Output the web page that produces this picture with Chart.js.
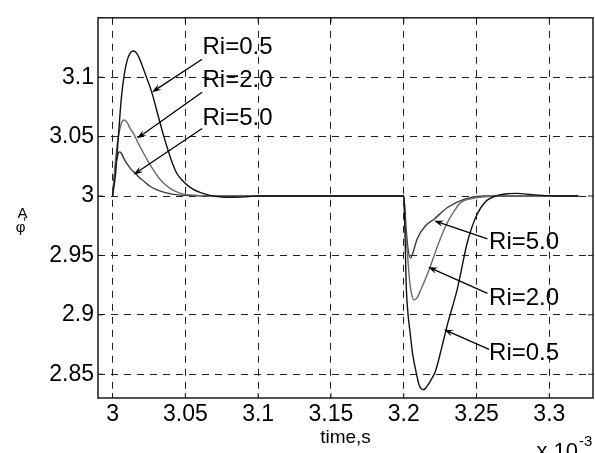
<!DOCTYPE html>
<html>
<head>
<meta charset="utf-8">
<script src="https://cdn.jsdelivr.net/npm/chart.js@4/dist/chart.umd.min.js"></script>
<style>
  html, body { margin: 0; padding: 0; background: #fff; }
  #wrap { width: 595px; height: 453px; }
</style>
</head>
<body>
<div id="wrap"><canvas id="c" width="595" height="453"></canvas></div>
<script>
// ---- data (time in units of 1e-3 s) ----
const ri05Time  = [3.000, 3.002, 3.004, 3.006, 3.008, 3.010, 3.012, 3.014, 3.016, 3.018, 3.020, 3.023, 3.027, 3.031, 3.035, 3.038, 3.041, 3.044, 3.048, 3.053, 3.060, 3.067, 3.075, 3.083, 3.092, 3.100, 3.200,
                   3.2005, 3.2016, 3.203, 3.2043, 3.206, 3.2078, 3.2107, 3.2137, 3.216, 3.2185, 3.2219, 3.226, 3.230, 3.2369, 3.2437, 3.250, 3.256, 3.2644, 3.272, 3.2781, 3.285, 3.295, 3.305, 3.320];
const ri05Value = [3.000, 3.018, 3.050, 3.082, 3.102, 3.114, 3.120, 3.122, 3.121, 3.117, 3.111, 3.101, 3.087, 3.069, 3.051, 3.039, 3.028, 3.0194, 3.013, 3.0075, 3.003, 3.0005, 2.9992, 2.9990, 2.9994, 3.000, 3.000,
                   2.990, 2.928, 2.900, 2.886, 2.868, 2.856, 2.8405, 2.837, 2.840, 2.8447, 2.853, 2.872, 2.8918, 2.9223, 2.9611, 2.9836, 2.995, 3.0005, 3.002, 3.0022, 3.0015, 3.0005, 3.000, 3.000];

const ri2Time  = [3.000, 3.002, 3.004, 3.006, 3.0076, 3.010, 3.012, 3.0144, 3.017, 3.020, 3.024, 3.028, 3.032, 3.035, 3.040, 3.045, 3.050, 3.060, 3.070, 3.200,
                  3.2005, 3.2023, 3.2041, 3.2055, 3.2069, 3.209, 3.212, 3.2173, 3.2242, 3.230, 3.235, 3.2391, 3.2506, 3.265, 3.320];
const ri2Value = [3.000, 3.030, 3.050, 3.061, 3.064, 3.062, 3.057, 3.0527, 3.046, 3.039, 3.030, 3.022, 3.015, 3.011, 3.006, 3.003, 3.0013, 3.0003, 3.000, 3.000,
                  2.985, 2.9556, 2.9279, 2.917, 2.9126, 2.914, 2.922, 2.9376, 2.9611, 2.9778, 2.988, 2.9944, 2.9986, 3.000, 3.000];

const ri5Time  = [3.000, 3.002, 3.0035, 3.0046, 3.006, 3.008, 3.010, 3.013, 3.0156, 3.018, 3.022, 3.026, 3.031, 3.037, 3.045, 3.055, 3.070, 3.200,
                  3.2015, 3.203, 3.2046, 3.206, 3.2092, 3.215, 3.2208, 3.230, 3.2414, 3.255, 3.320];
const ri5Value = [3.000, 3.025, 3.034, 3.037, 3.036, 3.031, 3.027, 3.022, 3.0194, 3.016, 3.012, 3.008, 3.005, 3.0027, 3.001, 3.0003, 3.000, 3.000,
                  2.975, 2.955, 2.9478, 2.951, 2.9639, 2.975, 2.9805, 2.9903, 2.9972, 3.000, 3.000];

const xTickValues = [3.00, 3.05, 3.10, 3.15, 3.20, 3.25, 3.30];
const xTickLabels = ['3', '3.05', '3.1', '3.15', '3.2', '3.25', '3.3'];
const yTickValues = [2.85, 2.90, 2.95, 3.00, 3.05, 3.10];
const yTickLabels = ['2.85', '2.9', '2.95', '3', '3.05', '3.1'];

// annotations: label text, label anchor (left, baseline) and arrow (from -> to) in data units
const noteText  = ['Ri=0.5', 'Ri=2.0', 'Ri=5.0', 'Ri=5.0', 'Ri=2.0', 'Ri=0.5'];
const noteX     = [3.0618, 3.0618, 3.0618, 3.2586, 3.2586, 3.2586];
const noteY     = [3.1192, 3.0915, 3.0596, 2.9551, 2.9085, 2.8619];
const arrowFromX = [3.0615, 3.0615, 3.0615, 3.2575, 3.2575, 3.2586];
const arrowFromY = [3.1151, 3.0874, 3.0568, 2.9639, 2.9181, 2.8710];
const arrowToX   = [3.0271, 3.0168, 3.0144, 3.2208, 3.2167, 3.2276];
const arrowToY   = [3.0874, 3.0485, 3.0180, 2.9792, 2.9403, 2.8877];

const toPts = (t, v) => t.map((x, i) => ({ x: x, y: v[i] }));
const FONT = "'Liberation Sans', Arial, Helvetica, sans-serif";

const decorPlugin = {
  id: 'decor',
  afterDraw(chart) {
    const { ctx, chartArea: a, scales: { x, y } } = chart;
    ctx.save();
    // frame
    ctx.strokeStyle = '#1a1a1a';
    ctx.lineWidth = 1.5;
    ctx.setLineDash([]);
    ctx.strokeRect(a.left, a.top, a.right - a.left, a.bottom - a.top);
    // inside tick marks
    ctx.lineWidth = 1;
    ctx.beginPath();
    xTickValues.forEach(v => {
      const px = x.getPixelForValue(v);
      ctx.moveTo(px, a.bottom); ctx.lineTo(px, a.bottom - 5);
      ctx.moveTo(px, a.top); ctx.lineTo(px, a.top + 5);
    });
    yTickValues.forEach(v => {
      const py = y.getPixelForValue(v);
      ctx.moveTo(a.left, py); ctx.lineTo(a.left + 5, py);
      ctx.moveTo(a.right, py); ctx.lineTo(a.right - 5, py);
    });
    ctx.stroke();

    // annotations
    ctx.fillStyle = '#000';
    ctx.strokeStyle = '#000';
    ctx.font = '24px ' + FONT;
    ctx.textAlign = 'left';
    ctx.textBaseline = 'alphabetic';
    noteText.forEach((t, i) => {
      ctx.fillText(t, x.getPixelForValue(noteX[i]), y.getPixelForValue(noteY[i]));
      const sx = x.getPixelForValue(arrowFromX[i]), sy = y.getPixelForValue(arrowFromY[i]);
      const tx = x.getPixelForValue(arrowToX[i]), ty = y.getPixelForValue(arrowToY[i]);
      const ang = Math.atan2(ty - sy, tx - sx);
      const L = 10, W = 0.33;
      ctx.lineWidth = 1.3;
      ctx.beginPath();
      ctx.moveTo(sx, sy);
      ctx.lineTo(tx - 6 * Math.cos(ang), ty - 6 * Math.sin(ang));
      ctx.stroke();
      ctx.beginPath();
      ctx.moveTo(tx, ty);
      ctx.lineTo(tx - L * Math.cos(ang - W), ty - L * Math.sin(ang - W));
      ctx.lineTo(tx - 0.6 * L * Math.cos(ang), ty - 0.6 * L * Math.sin(ang));
      ctx.lineTo(tx - L * Math.cos(ang + W), ty - L * Math.sin(ang + W));
      ctx.closePath();
      ctx.fill();
    });

    // x label
    ctx.font = '19px ' + FONT;
    ctx.textAlign = 'center';
    ctx.fillText('time,s', (a.left + a.right) / 2, a.bottom + 45);

    // exponent
    ctx.font = '22px ' + FONT;
    ctx.textAlign = 'right';
    ctx.fillText('x 10', a.right - 15, a.bottom + 60);
    ctx.font = '15px ' + FONT;
    ctx.textAlign = 'left';
    ctx.fillText('-3', a.right - 14, a.bottom + 48);

    // y label (stacked characters)
    ctx.font = '15px ' + FONT;
    ctx.textAlign = 'center';
    ctx.fillText('A', 22.5, 218);
    ctx.fillText(',', 24.5, 219);
    ctx.fillText('\u03C6', 20.5, 232);
    ctx.restore();
  }
};

new Chart(document.getElementById('c'), {
  type: 'scatter',
  data: {
    datasets: [
      { label: 'Ri=0.5', data: toPts(ri05Time, ri05Value), borderColor: '#111111', borderWidth: 1.4 },
      { label: 'Ri=2.0', data: toPts(ri2Time, ri2Value), borderColor: '#6a6a6a', borderWidth: 1.4 },
      { label: 'Ri=5.0', data: toPts(ri5Time, ri5Value), borderColor: '#3a3a3a', borderWidth: 1.4 }
    ].map(d => Object.assign(d, { showLine: true, pointRadius: 0, pointHoverRadius: 0, cubicInterpolationMode: 'monotone', fill: false }))
  },
  options: {
    responsive: false,
    animation: false,
    events: [],
    layout: { padding: { top: 14, right: 2, left: 0, bottom: 0 } },
    plugins: { legend: { display: false }, tooltip: { enabled: false }, title: { display: false } },
    scales: {
      x: {
        type: 'linear', min: 2.99, max: 3.33,
        afterBuildTicks: s => { s.ticks = xTickValues.map(v => ({ value: v })); },
        afterFit: s => { s.height = 55; },
        ticks: { autoSkip: false, maxRotation: 0, padding: 3, color: '#000',
                 font: { family: FONT, size: 23 },
                 callback: (v) => { const i = xTickValues.findIndex(t => Math.abs(t - v) < 1e-9); return i >= 0 ? xTickLabels[i] : ''; } },
        grid: { color: '#222', lineWidth: 1, drawTicks: false },
        border: { display: false, dash: [7, 6] }
      },
      y: {
        type: 'linear', min: 2.83, max: 3.15,
        afterBuildTicks: s => { s.ticks = yTickValues.map(v => ({ value: v })); },
        afterFit: s => { s.width = 98; },
        ticks: { autoSkip: false, padding: 4, color: '#000',
                 font: { family: FONT, size: 23 },
                 callback: (v) => { const i = yTickValues.findIndex(t => Math.abs(t - v) < 1e-9); return i >= 0 ? yTickLabels[i] : ''; } },
        grid: { color: '#222', lineWidth: 1, drawTicks: false },
        border: { display: false, dash: [7, 6] }
      }
    }
  },
  plugins: [decorPlugin]
});
</script>
</body>
</html>
